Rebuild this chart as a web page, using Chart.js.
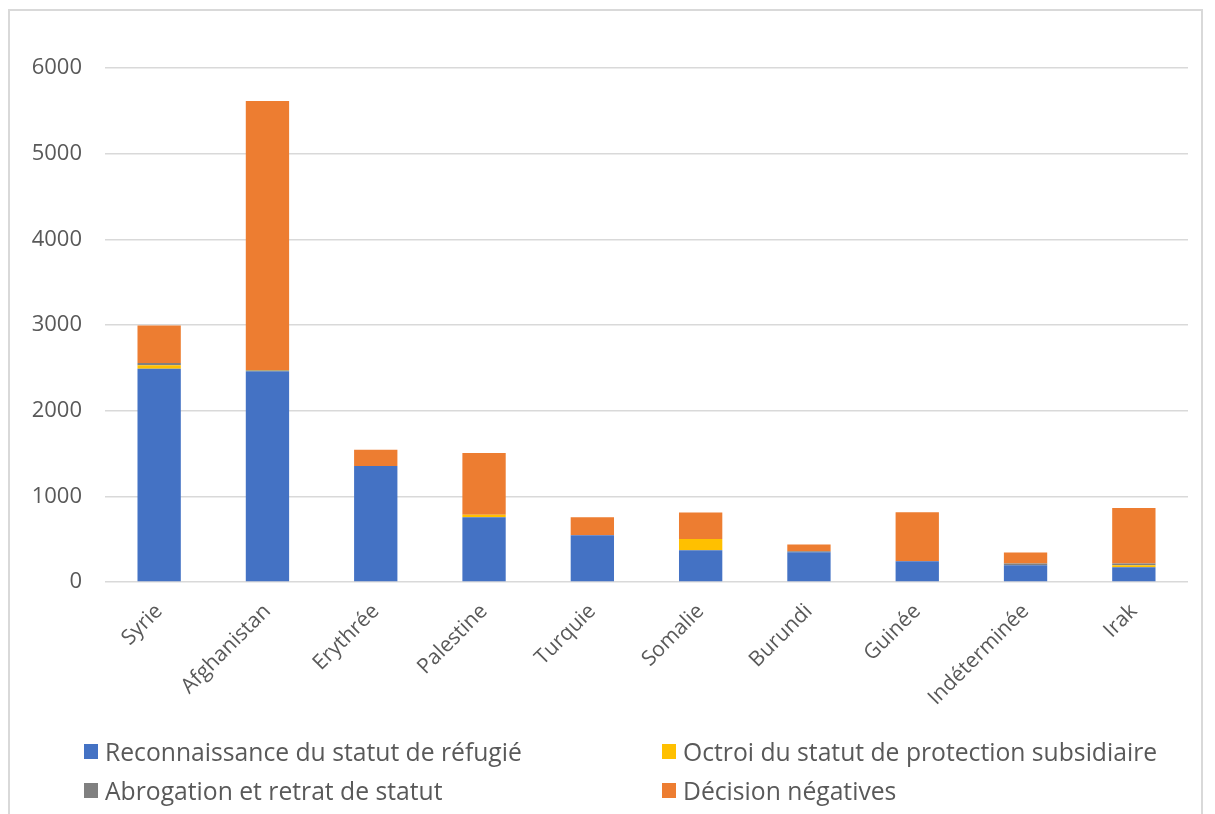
<!DOCTYPE html>
<html lang="fr">
<head>
<meta charset="utf-8">
<title>Décisions par pays</title>
<script src="https://cdn.jsdelivr.net/npm/chart.js@4/dist/chart.umd.min.js"></script>
<style>
  html, body { margin: 0; padding: 0; background: #ffffff; }
  body { width: 1215px; height: 814px; position: relative; overflow: hidden; font-family: "Open Sans", sans-serif; }
  #frame { position: absolute; left: 8px; top: 9px; width: 1195px; height: 900px; border: 2px solid #d9d9d9; box-sizing: border-box; }
  #chart { position: absolute; left: 0; top: 0; }
  .legend-item { position: absolute; display: flex; align-items: center; height: 30px; font-size: 24.7px; color: #595959; white-space: nowrap; }
  .legend-box { width: 14px; height: 15px; margin-right: 7px; flex: none; }
</style>
</head>
<body>
<div id="frame"></div>
<canvas id="chart" width="1215" height="814"></canvas>
<div id="legend"></div>
<script>
// Pays
const categories = ["Syrie", "Afghanistan", "Erythrée", "Palestine", "Turquie", "Somalie", "Burundi", "Guinée", "Indéterminée", "Irak"];

// Nombre de décisions par type
const reconnaissance = [2490, 2460, 1355, 755, 545, 370, 347, 243, 196, 172];
const octroi         = [40, 5, 0, 30, 0, 133, 0, 0, 0, 23];
const abrogation     = [25, 10, 0, 0, 0, 0, 12, 0, 20, 20];
const negatives      = [440, 3140, 190, 721, 210, 307, 78, 570, 128, 650];

// Graduations de l'axe vertical
const yTicks = [0, 1000, 2000, 3000, 4000, 5000, 6000];

const seriesNames = [
  "Reconnaissance du statut de réfugié",
  "Octroi du statut de protection subsidiaire",
  "Abrogation et retrat de statut",
  "Décision négatives"
];
const seriesColors = ["#4472C4", "#FFC000", "#808080", "#ED7D31"];
const seriesData = [reconnaissance, octroi, abrogation, negatives];

const textColor = "#595959";
const gridColor = "#d9d9d9";

const chart = new Chart(document.getElementById("chart"), {
  type: "bar",
  data: {
    labels: categories,
    datasets: seriesData.map((d, i) => ({
      label: seriesNames[i],
      data: d,
      backgroundColor: seriesColors[i],
      borderWidth: 0,
      barPercentage: 0.4,
      categoryPercentage: 1.0
    }))
  },
  options: {
    responsive: false,
    animation: false,
    devicePixelRatio: 1,
    layout: { padding: { top: 68, right: 27, left: 0, bottom: 0 } },
    plugins: {
      legend: { display: false },
      tooltip: { enabled: false }
    },
    scales: {
      x: {
        stacked: true,
        grid: { display: false },
        border: { display: false },
        ticks: {
          color: textColor,
          font: { family: "Open Sans", size: 21 },
          minRotation: 45,
          maxRotation: 45,
          padding: 9,
          autoSkip: false
        },
        afterFit(scale) { scale.height = 232; }
      },
      y: {
        stacked: true,
        min: yTicks[0],
        max: yTicks[yTicks.length - 1],
        afterBuildTicks(scale) { scale.ticks = yTicks.map(v => ({ value: v })); },
        grid: { color: gridColor, lineWidth: 1.5, drawTicks: false },
        border: { display: false },
        ticks: {
          color: textColor,
          font: { family: "Open Sans", size: 22 },
          padding: 23,
          callback: (v) => String(v)
        },
        afterFit(scale) { scale.width = 105; }
      }
    }
  }
});

// Légende sur deux colonnes
const legendPos = [
  { left: 84, top: 736 },
  { left: 662, top: 736 },
  { left: 84, top: 775 },
  { left: 662, top: 775 }
];
const legendEl = document.getElementById("legend");
chart.data.datasets.forEach((ds, i) => {
  const item = document.createElement("div");
  item.className = "legend-item";
  item.style.left = legendPos[i].left + "px";
  item.style.top = legendPos[i].top + "px";
  const box = document.createElement("span");
  box.className = "legend-box";
  box.style.background = ds.backgroundColor;
  const txt = document.createElement("span");
  txt.textContent = ds.label;
  item.appendChild(box);
  item.appendChild(txt);
  legendEl.appendChild(item);
});
</script>
</body>
</html>
